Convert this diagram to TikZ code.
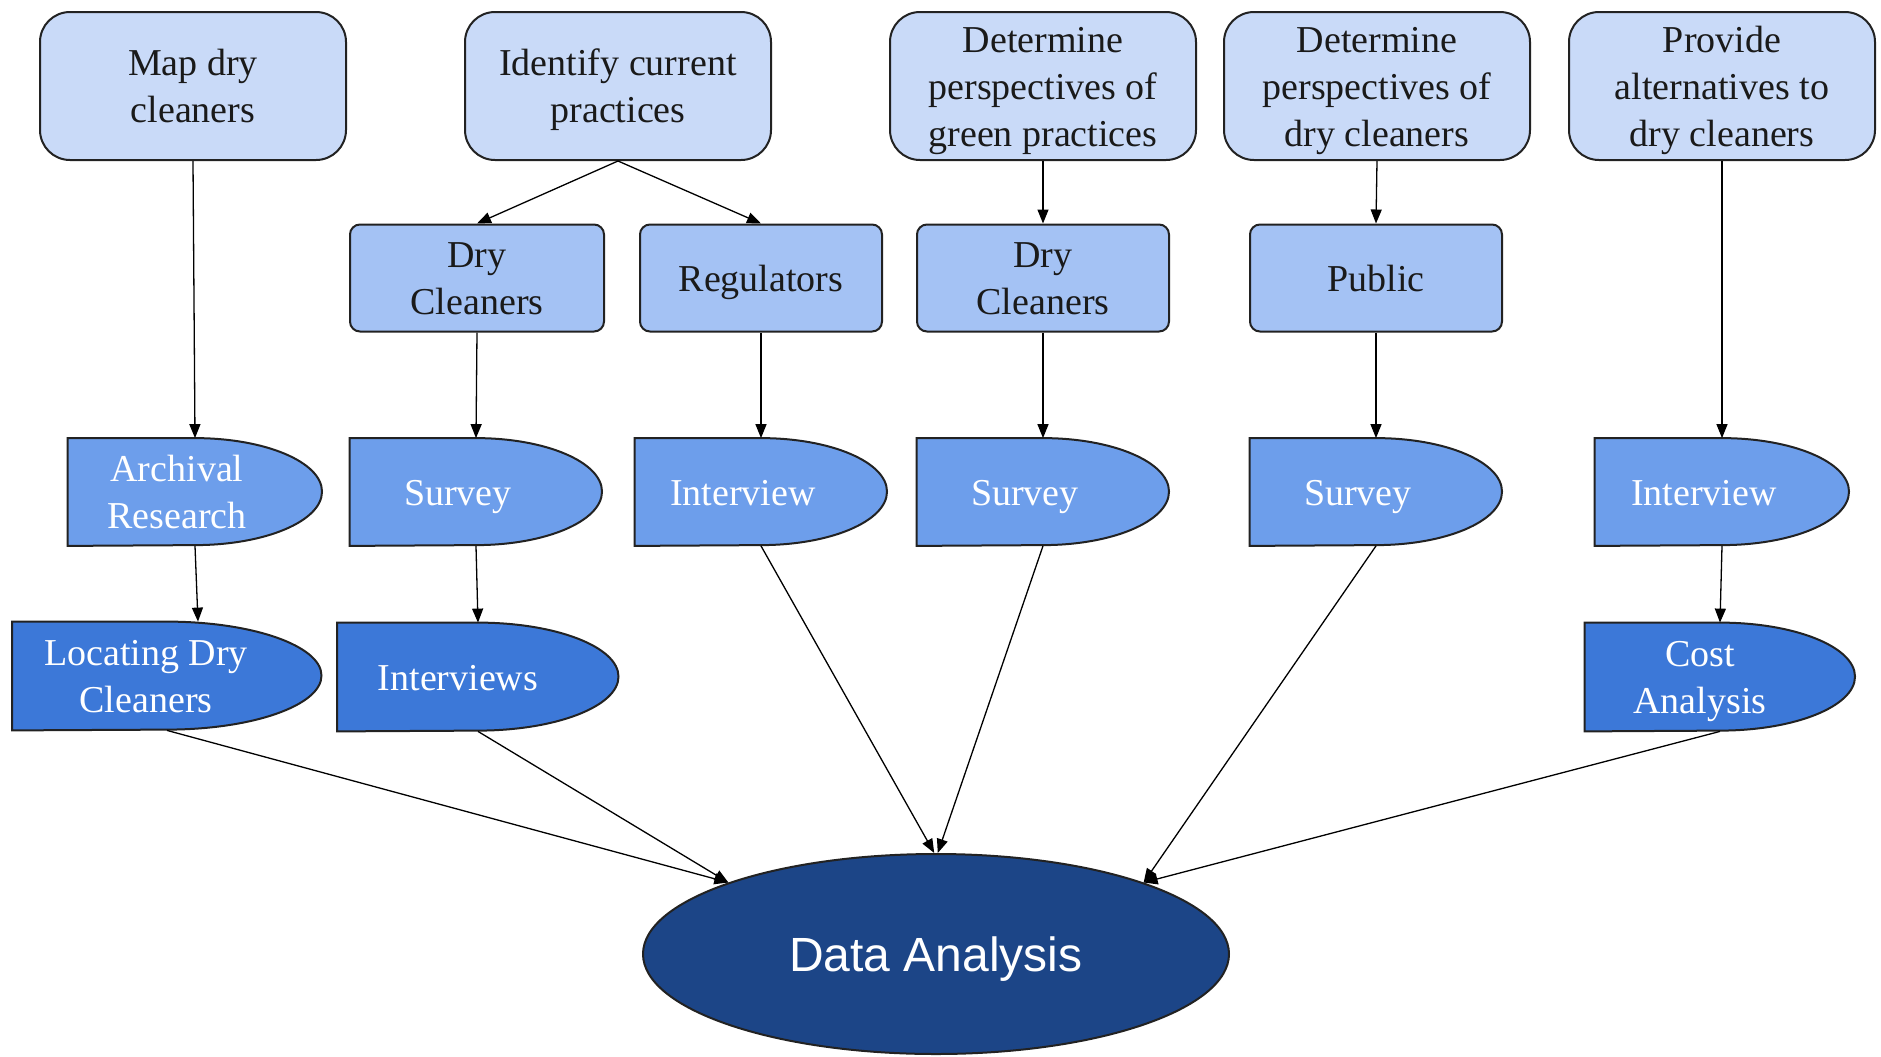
\documentclass[tikz,border=0pt]{standalone}
\usepackage{fontspec}
\setmainfont{Liberation Serif}
\newfontfamily\dasans{Liberation Sans}
\usetikzlibrary{arrows.meta,shapes.geometric}
\definecolor{cA}{HTML}{C9DAF8}
\definecolor{cB}{HTML}{A4C2F4}
\definecolor{cC}{HTML}{6D9EEB}
\definecolor{cD}{HTML}{3C78D8}
\definecolor{cE}{HTML}{1C4587}
\definecolor{edgec}{HTML}{222222}
\definecolor{txt}{HTML}{1A1A1A}
\newcommand{\bstrut}{\rule[-5.25pt]{0pt}{23.5pt}}
\newcommand{\dastrut}{\rule[-2pt]{0pt}{24pt}}
\newcommand{\ml}[1]{\vbox{\halign{\hfil\bstrut##\hfil\cr#1\crcr}}}
\newcommand{\delayshape}[4]{%
  \draw[line width=1pt, draw=edgec, fill=#4] (#1.north west) -- (#1.north)
    arc[start angle=90, end angle=-90, x radius=#2, y radius=#3] -- (#1.south west) -- cycle;}
\begin{document}
\begin{tikzpicture}[x=0.5pt,y=-0.5pt,
  basefont/.style={font=\fontsize{19}{23.5}\selectfont},
  topbox/.style={basefont, draw=edgec, line width=1pt, fill=cA, rounded corners=15pt,
    minimum width=153pt, minimum height=74pt, inner sep=0pt, text=txt},
  midbox/.style={basefont, draw=edgec, line width=1pt, fill=cB, rounded corners=5pt,
    minimum height=53.5pt, inner sep=0pt, text=txt},
  geo/.style={minimum height=53.5pt, inner sep=0pt, draw=none},
  lab/.style={basefont, text=white, inner sep=0pt},
  link/.style={draw=black, line width=0.65pt, -{Triangle[length=7pt,width=5.5pt]}},
]
\path[use as bounding box, fill=white] (0,0) rectangle (1881,1056);

% top row
\node[topbox] (t1) at (193,86) {\ml{Map dry\cr cleaners}};
\node[topbox] (t2) at (618,86) {\ml{Identify current\cr practices}};
\node[topbox] (t3) at (1043,86) {\ml{Determine\cr perspectives of\cr green practices}};
\node[topbox] (t4) at (1377,86) {\ml{Determine\cr perspectives of\cr dry cleaners}};
\node[topbox] (t5) at (1722,86) {\ml{Provide\cr alternatives to\cr dry cleaners}};

% second row
\node[midbox, minimum width=127pt] (m1) at (477,278) {\ml{Dry\cr Cleaners}};
\node[midbox, minimum width=121pt] (m2) at (761,278) {\ml{Regulators}};
\node[midbox, minimum width=126pt] (m3) at (1043,278) {\ml{Dry\cr Cleaners}};
\node[midbox, minimum width=126pt] (m4) at (1376,278) {\ml{Public}};

% third row
\node[geo, minimum width=127pt] (ar) at (195,492) {};
\delayshape{ar}{63.5pt}{26.75pt}{cC}
\node[lab] (art) at ([xshift=-9pt]ar.center) {\ml{Archival\cr Research}};

\node[geo, minimum width=126pt] (s1) at (476,492) {};
\delayshape{s1}{63pt}{26.75pt}{cC}
\node[lab] (s1t) at ([xshift=-9pt]s1.center) {\ml{Survey}};

\node[geo, minimum width=126pt] (i1) at (761,492) {};
\delayshape{i1}{63pt}{26.75pt}{cC}
\node[lab] (i1t) at ([xshift=-9pt]i1.center) {\ml{Interview}};

\node[geo, minimum width=126pt] (s2) at (1043,492) {};
\delayshape{s2}{63pt}{26.75pt}{cC}
\node[lab] (s2t) at ([xshift=-9pt]s2.center) {\ml{Survey}};

\node[geo, minimum width=126pt] (s3) at (1376,492) {};
\delayshape{s3}{63pt}{26.75pt}{cC}
\node[lab] (s3t) at ([xshift=-9pt]s3.center) {\ml{Survey}};

\node[geo, minimum width=127pt] (i2) at (1722,492) {};
\delayshape{i2}{63.5pt}{26.75pt}{cC}
\node[lab] (i2t) at ([xshift=-9pt]i2.center) {\ml{Interview}};

% fourth row
\node[geo, minimum width=154.5pt, minimum height=54pt] (lo) at (167,676) {};
\delayshape{lo}{77.25pt}{27pt}{cD}
\node[lab] (lot) at ([xshift=-10.5pt]lo.center) {\ml{Locating Dry\cr Cleaners}};

\node[geo, minimum width=140.5pt, minimum height=54pt] (iv) at (478,677) {};
\delayshape{iv}{70.25pt}{27pt}{cD}
\node[lab] (ivt) at ([xshift=-10pt]iv.center) {\ml{Interviews}};

\node[geo, minimum width=135pt, minimum height=54pt] (co) at (1720,677) {};
\delayshape{co}{67.5pt}{27pt}{cD}
\node[lab] (cot) at ([xshift=-10pt]co.center) {\ml{Cost\cr Analysis}};

% data analysis
\node[ellipse, draw=edgec, line width=1pt, fill=cE, minimum width=293pt, minimum height=100pt,
  inner sep=0pt, text=white, font=\dasans\fontsize{24}{28}\selectfont] (da) at (936,954) {\dastrut Data Analysis};

% connectors
\draw[link] (t1.south) -- (ar.north);
\draw[link] (t2.south) -- (m1.north);
\draw[link] (t2.south) -- (m2.north);
\draw[link] (t3.south) -- (m3.north);
\draw[link] (t4.south) -- (m4.north);
\draw[link] (t5.south) -- (i2.north);
\draw[link] (m1.south) -- (s1.north);
\draw[link] (m2.south) -- (i1.north);
\draw[link] (m3.south) -- (s2.north);
\draw[link] (m4.south) -- (s3.north);
\draw[link] (ar.south) -- ([xshift=1.5pt]ar.south |- lo.north);
\draw[link] (s1.south) -- (iv.north);
\draw[link] (i2.south) -- (co.north);
\draw[link] (lo.south) -- (da.161);
\draw[link] (iv.south) -- (da.161);
\draw[link] (i1.south) -- (da.91);
\draw[link] (s2.south) -- (da.89);
\draw[link] (s3.south) -- (da.19);
\draw[link] (co.south) -- (da.19);
\end{tikzpicture}
\end{document}
